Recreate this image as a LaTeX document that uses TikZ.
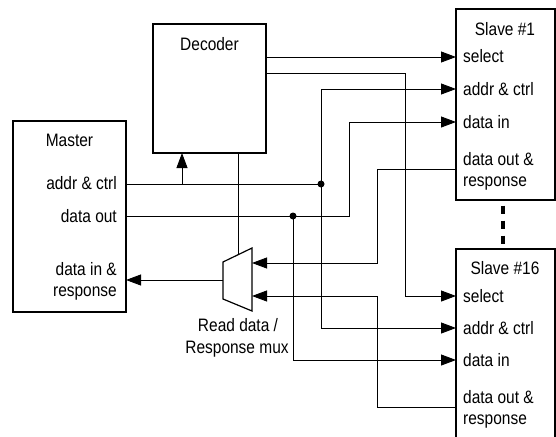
\documentclass[tikz,border=0pt]{standalone}
\usepackage{fontspec}
\setmainfont{Liberation Sans}[FakeStretch=0.86]
\usetikzlibrary{arrows.meta,calc}
\begin{document}
\begin{tikzpicture}[x=1pt,y=-1pt,
  box/.style={draw, line width=1.2pt, inner sep=0pt, rectangle},
  wire/.style={line width=0.9pt},
  sig/.style={wire, -{Triangle[length=15pt,width=11pt]}},
  lbl/.style={inner sep=0pt, font=\fontsize{18}{21}\selectfont},
  jdot/.style={circle, fill, inner sep=0pt, minimum size=7pt},
  dashline/.style={line width=4pt, dash pattern=on 8pt off 7pt},
]
\useasboundingbox (0,0) rectangle (556,436);
\clip (0,0) rectangle (556,436);

% ---- blocks ----
\node[box, minimum width=113pt, minimum height=191pt] (master) at (69.5,216.5) {};
\node[box, minimum width=113pt, minimum height=129pt] (dec) at (209.5,88.5) {};
\node[box, minimum width=99pt, minimum height=191pt] (slave1) at (505.5,104.5) {};
\node[box, minimum width=99pt, minimum height=196pt] (slave16) at (505.5,347) {};

% read data / response multiplexer
\draw[line width=1.2pt] (223,262) coordinate (muxtl) -- (252,248) coordinate (muxtr)
  -- (252,311) coordinate (muxbr) -- (223,299) coordinate (muxbl) -- cycle;
\coordinate (muxsel) at ($(muxtl)!15/29!(muxtr)$);
\coordinate (muxin1) at (252,263);
\coordinate (muxin2) at (252,296);
\coordinate (muxout) at (223,280);

% ---- labels ----
\node[lbl, anchor=base] (mtitle) at (69.5,146) {Master};
\node[lbl, anchor=base east] (mac) at (117,189) {addr \& ctrl};
\node[lbl, anchor=base east] (mdo) at (117,222) {data out};
\node[lbl, anchor=base east] (mdi1) at (117,275) {data in \&};
\node[lbl, anchor=base east] (mdi2) at (117,296) {response};

\node[lbl, anchor=base] (dtitle) at (209.5,50) {Decoder};

\node[lbl, anchor=base] (mux1) at (238,331) {Read data /};
\node[lbl, anchor=base] (mux2) at (237,353) {Response mux};

\node[lbl, anchor=base] (s1title) at (505,36) {Slave \#1};
\node[lbl, anchor=base west] (s1l1) at (463,63) {select};
\node[lbl, anchor=base west] (s1l2) at (463,95) {addr \& ctrl};
\node[lbl, anchor=base west] (s1l3) at (463,128) {data in};
\node[lbl, anchor=base west] (s1l4) at (463,165) {data out \&};
\node[lbl, anchor=base west] (s1l5) at (463,186) {response};

\node[lbl, anchor=base] (s16title) at (505,274) {Slave \#16};
\node[lbl, anchor=base west] (s16l1) at (463,302) {select};
\node[lbl, anchor=base west] (s16l2) at (463,334) {addr \& ctrl};
\node[lbl, anchor=base west] (s16l3) at (463,366) {data in};
\node[lbl, anchor=base west] (s16l4) at (463,403) {data out \&};
\node[lbl, anchor=base west] (s16l5) at (463,424) {response};

% ---- ports ----
\coordinate (mac-p) at (126,184);
\coordinate (mdo-p) at (126,216);
\coordinate (mdi-p) at (126,280);
\coordinate (decin) at (182,153);
\coordinate (decsel1) at (266,57);
\coordinate (decsel2) at (266,73);
\coordinate (s1sel) at (456,57);
\coordinate (s1ac) at (456,89);
\coordinate (s1di) at (456,122);
\coordinate (s1do) at (456,169);
\coordinate (s16sel) at (456,296);
\coordinate (s16ac) at (456,328);
\coordinate (s16di) at (456,360);
\coordinate (s16do) at (456,407);
\coordinate (ja) at (321,184);
\coordinate (jd) at (293,216);

% ---- connectors ----
% slave selects from the decoder
\draw[sig] (decsel1) -- (s1sel);
\draw[sig] (decsel2) -- (405,73) |- (s16sel);
% address & control
\draw[wire] (mac-p) -- (ja);
\draw[sig] (decin |- mac-p) -- (decin);
\draw[sig] (ja) |- (s1ac);
\draw[sig] (ja) |- (s16ac);
% write data
\draw[wire] (mdo-p) -- (jd);
\draw[sig] (jd) -- (349,216) |- (s1di);
\draw[sig] (jd) |- (s16di);
% read data & response back to the master
\draw[sig] (s1do) -- (377,169) |- (muxin1);
\draw[sig] (s16do) -- (377,407) |- (muxin2);
\draw[wire] (dec.south -| muxsel) -- (muxsel);
\draw[sig] (muxout) -- (mdi-p);

% junction dots
\node[jdot] (jadot) at (ja) {};
\node[jdot] (jddot) at (jd) {};

% more slaves in between
\draw[dashline, transform canvas={xshift=-2.5pt}, shorten <=5pt, shorten >=4pt]
  (slave1.south) -- (slave16.north);
\end{tikzpicture}
\end{document}
